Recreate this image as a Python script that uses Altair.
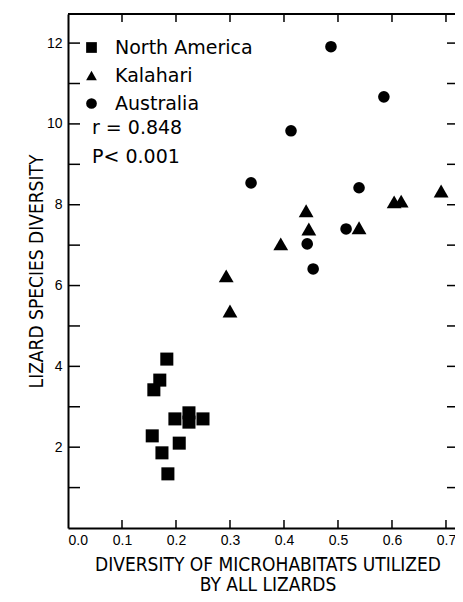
import altair as alt
import pandas as pd

# ---- data ----
regions = ["North America", "Kalahari", "Australia"]

na_x = [0.183, 0.170, 0.159, 0.198, 0.224, 0.224, 0.250, 0.156, 0.206, 0.174, 0.185]
na_y = [4.18, 3.66, 3.42, 2.70, 2.85, 2.62, 2.70, 2.28, 2.10, 1.86, 1.34]

ka_x = [0.441, 0.446, 0.394, 0.539, 0.293, 0.300, 0.604, 0.617, 0.691]
ka_y = [7.85, 7.40, 7.03, 7.43, 6.24, 5.37, 8.07, 8.09, 8.34]

au_x = [0.487, 0.585, 0.413, 0.339, 0.539, 0.515, 0.443, 0.454]
au_y = [11.91, 10.67, 9.83, 8.54, 8.42, 7.40, 7.03, 6.41]

x_label_values = [0.0, 0.1, 0.2, 0.3, 0.4, 0.5, 0.6, 0.7]
x_tick_values = [0.1, 0.2, 0.3, 0.4, 0.5, 0.6, 0.7]
y_label_values = [2, 4, 6, 8, 10, 12]
y_tick_values = [1, 2, 3, 4, 5, 6, 7, 8, 9, 10, 11, 12]

stats_lines = ["r = 0.848", "P< 0.001"]

x_title = ["DIVERSITY OF MICROHABITATS UTILIZED", "BY ALL LIZARDS"]
y_title = "LIZARD SPECIES DIVERSITY"

# ---- table ----
df = pd.DataFrame({
    "habitat": na_x + ka_x + au_x,
    "species": na_y + ka_y + au_y,
    "region": [regions[0]] * len(na_x) + [regions[1]] * len(ka_x) + [regions[2]] * len(au_x),
})

W, H = 387, 514
TEXT_FONT = "DejaVu Sans"
TITLE_FONT = "Liberation Sans Narrow, DejaVu Sans Condensed, Liberation Sans"
LABEL_FONT = "Liberation Sans"
shape_range = ["square", "triangle-up", "circle"]
mark_sizes = [170, 220, 135]

x_scale = alt.Scale(domain=[0, 0.7167], nice=False, zero=False)
y_scale = alt.Scale(domain=[0, 12.72], nice=False, zero=False)

x_axis = alt.Axis(values=x_label_values, format=".1f", ticks=False, grid=False,
                  domain=True, domainColor="black", domainWidth=2,
                  labelFont=LABEL_FONT, labelFontSize=14, labelColor="black",
                  labelPadding=5, title=x_title, titleFont=TITLE_FONT,
                  titleFontSize=19, titleFontWeight="normal", titleColor="black",
                  titleLineHeight=20, titlePadding=8, titleX=W / 2 + 6)
y_axis = alt.Axis(values=y_label_values, ticks=False, grid=False,
                  domain=True, domainColor="black", domainWidth=2,
                  labelFont=LABEL_FONT, labelFontSize=14, labelColor="black",
                  labelPadding=6, title=y_title, titleFont=TITLE_FONT,
                  titleFontSize=19, titleFontWeight="normal", titleColor="black",
                  titlePadding=0)

legend = alt.Legend(title=None, orient="none", legendX=14, legendY=24,
                    padding=0, symbolSize=115, symbolFillColor="black",
                    symbolStrokeColor="black", symbolStrokeWidth=0,
                    symbolOpacity=1, labelFont=TEXT_FONT, labelFontSize=19,
                    labelColor="black", labelOffset=14, rowPadding=8)

point_layers = []
for reg, sz in zip(regions, mark_sizes):
    point_layers.append(
        alt.Chart(df).transform_filter(alt.datum.region == reg)
        .mark_point(filled=True, opacity=1, color="black", size=sz)
        .encode(
            x=alt.X("habitat:Q", scale=x_scale, axis=x_axis),
            y=alt.Y("species:Q", scale=y_scale, axis=y_axis),
            shape=alt.Shape("region:N", sort=regions,
                            scale=alt.Scale(domain=regions, range=shape_range),
                            legend=legend),
        )
    )

xt = pd.DataFrame({"habitat": x_tick_values})
yt = pd.DataFrame({"species": y_tick_values})

tick_style = dict(color="black", strokeWidth=1.5)
top_ticks = alt.Chart(xt).mark_rule(**tick_style).encode(
    x=alt.X("habitat:Q", scale=x_scale, axis=x_axis), y=alt.value(0), y2=alt.value(8))
bottom_ticks = alt.Chart(xt).mark_rule(**tick_style).encode(
    x=alt.X("habitat:Q", scale=x_scale, axis=x_axis), y=alt.value(H), y2=alt.value(H - 8))
left_ticks = alt.Chart(yt).mark_rule(**tick_style).encode(
    y=alt.Y("species:Q", scale=y_scale, axis=y_axis), x=alt.value(0), x2=alt.value(12))
right_ticks = alt.Chart(yt).mark_rule(**tick_style).encode(
    y=alt.Y("species:Q", scale=y_scale, axis=y_axis), x=alt.value(W - 8), x2=alt.value(W))

top_line = alt.Chart(pd.DataFrame({"a": [0]})).mark_rule(color="black", strokeWidth=2).encode(
    x=alt.value(0), x2=alt.value(W), y=alt.value(0))

stats = alt.Chart(pd.DataFrame({"a": [0]})).mark_text(
    align="left", baseline="middle", font=TEXT_FONT, fontSize=19, lineHeight=29, color="black"
).encode(x=alt.value(24), y=alt.value(114), text=alt.value(stats_lines))

chart = alt.layer(*point_layers, top_line, top_ticks, bottom_ticks, left_ticks, right_ticks, stats).properties(
    width=W, height=H,
    background="white",
    autosize=alt.AutoSizeParams(type="none"),
    padding={"left": 60, "top": 6, "right": 0, "bottom": 65},
).configure_view(stroke="transparent")

chart.save("out.html", embed_options={"renderer": "svg", "actions": False})
